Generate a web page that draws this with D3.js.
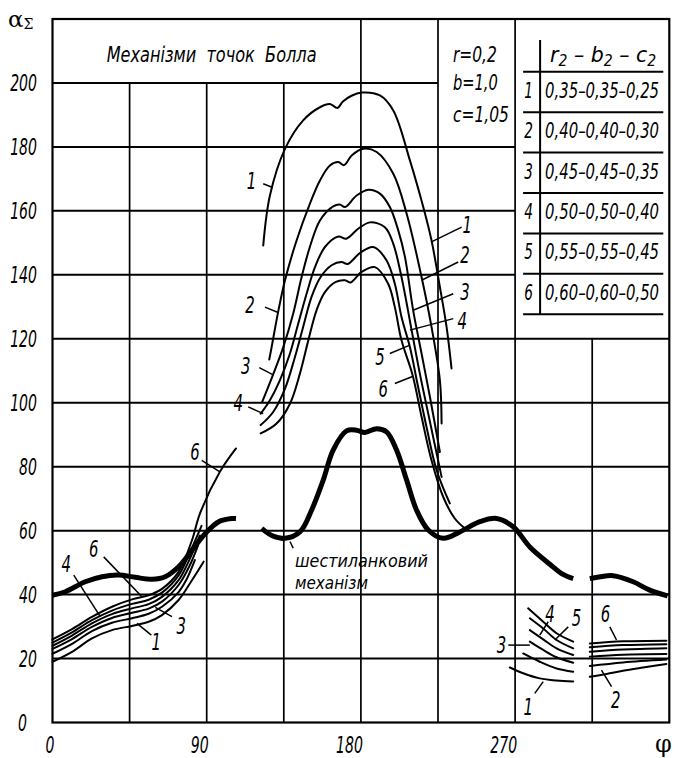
<!DOCTYPE html>
<html>
<head>
<meta charset="utf-8">
<script src="https://cdn.jsdelivr.net/npm/d3@7"></script>
<style>
  html, body { margin: 0; padding: 0; background: #fff; }
  svg { display: block; }
</style>
</head>
<body>
<svg id="chart" width="678" height="758"></svg>
<script>
// ---- axis ticks ----
const yTicks = [0, 20, 40, 60, 80, 100, 120, 140, 160, 180, 200];
const xTicks = [0, 90, 180, 270];

// ---- Ball-point mechanisms, variants 1..6: branch over 120..240 deg ----
const upper1 = [[123.0,149.2],[126.9,164.8],[135.7,179.4],[146.3,188.3],[156.1,192.4],[161.9,193.4],[166.3,192.2],[169.5,194.2],[174.5,196.0],[180.4,197.0],[191.1,196.1],[198.9,191.4],[208.6,175.8],[216.4,161.2],[221.2,150.8],[226.1,136.2],[230.0,123.7],[232.9,110.7]];
const upper2 = [[126.5,113.5],[127.9,117.4],[131.7,128.4],[135.7,138.3],[142.5,150.8],[150.2,162.2],[156.1,169.5],[161.9,174.2],[166.8,175.3],[170.2,174.3],[174.6,177.3],[181.3,179.4],[189.2,178.4],[198.9,171.6],[206.7,159.1],[215.4,139.3],[221.2,123.7],[226.1,107.0],[227.1,93.5]];
const upper3 = [[122.4,100.3],[128.8,108.9],[134.7,117.4],[140.5,127.9],[145.4,139.3],[150.2,148.7],[156.1,157.0],[163.8,161.4],[167.7,162.0],[170.7,161.2],[177.5,164.8],[184.3,166.6],[191.1,165.4],[196.9,161.2],[201.8,153.9],[205.7,145.6],[210.5,128.9],[215.4,115.4],[220.3,101.8],[226.1,84.6]];
const upper4 = [[121.5,96.6],[126.9,100.8],[132.7,107.0],[138.6,115.4],[143.4,124.7],[148.3,134.1],[153.2,142.4],[159.0,148.7],[166.8,152.0],[171.5,151.3],[178.4,154.4],[185.2,156.4],[194.0,154.9],[198.9,149.7],[203.7,139.3],[209.6,122.7],[214.4,109.1],[219.3,96.6],[227.1,76.8]];
const upper5 = [[121.5,93.0],[128.8,97.1],[135.7,104.4],[141.5,114.3],[146.3,123.7],[151.2,133.1],[156.5,139.3],[162.9,143.0],[168.7,144.0],[172.3,143.4],[179.4,146.8],[187.2,148.7],[195.0,144.5],[199.8,137.2],[203.7,126.8],[208.6,117.4],[213.4,104.9],[218.3,92.4],[224.2,78.9],[231.9,68.5]];
const upper6 = [[121.5,90.4],[130.8,93.5],[138.6,99.7],[144.4,109.1],[149.3,119.5],[154.1,128.9],[159.0,134.6],[165.4,137.8],[170.7,138.3],[174.0,137.6],[180.4,140.9],[188.2,142.4],[195.9,137.2],[199.8,129.9],[203.7,119.5],[210.2,108.6],[215.4,95.6],[221.2,82.0],[228.0,70.6],[234.8,63.8],[240.7,60.7]];

// ---- branch over 0..107 deg ----
const left1 = [[0,19.0],[11.4,22.1],[23.0,26.3],[34.7,28.9],[46.4,30.2],[56.1,31.5],[63.9,33.6],[73.6,38.3],[81.4,44.5],[88.2,50.3]];
const left2 = [[0,21.5],[11.4,24.6],[23.0,28.6],[34.7,31.2],[46.4,32.6],[56.1,34.0],[63.9,36.2],[73.6,40.8],[78.0,44.5],[83.1,50.8]];
const left3 = [[0,23.0],[11.4,26.1],[23.0,29.9],[34.7,32.7],[46.4,34.3],[56.1,35.6],[63.9,37.8],[73.6,43.0],[80.0,49.0],[85.0,55.5]];
const left4 = [[0,24.0],[11.4,27.2],[23.0,31.0],[34.7,33.9],[46.4,35.7],[56.1,37.0],[63.9,39.3],[73.6,44.5],[80.0,51.0],[86.0,58.5]];
const left5 = [[0,25.0],[11.4,28.2],[23.0,32.0],[34.7,35.0],[46.4,37.1],[56.1,38.4],[63.9,40.6],[73.6,46.0],[80.0,53.0],[87.0,61.5]];
const left6 = [[0,26.0],[11.4,29.2],[23.0,33.0],[34.7,36.2],[46.4,38.5],[56.1,39.8],[63.9,41.8],[73.6,47.1],[81.4,57.0],[86.1,65.4],[97.7,78.4],[107.1,85.7]];

// ---- branch over 267..304 deg ----
const midRight1 = [[266.9,17.2],[274.7,15.4],[284.4,13.8],[294.2,13.1],[303.9,12.8]];
const midRight2 = [[274.7,21.6],[284.4,19.0],[294.2,16.9],[303.9,15.9]];
const midRight3 = [[278.6,25.3],[286.4,22.7],[294.2,20.4],[303.9,18.7]];
const midRight4 = [[278.6,28.9],[286.4,26.0],[294.2,23.2],[303.9,21.1]];
const midRight5 = [[278.6,32.6],[286.4,29.4],[294.2,25.8],[303.9,23.2]];
const midRight6 = [[277.6,35.7],[286.4,31.5],[294.2,27.9],[303.9,25.3]];

// ---- branch over 314..358 deg ----
const farRight1 = [[313.6,14.3],[323.4,15.2],[333.0,16.2],[344.7,17.2],[358.3,18.3]];
const farRight2 = [[313.6,17.7],[333.0,18.8],[358.3,19.7]];
const farRight3 = [[313.6,20.6],[333.0,21.2],[358.3,21.4]];
const farRight4 = [[313.6,22.1],[333.0,22.8],[358.3,23.2]];
const farRight5 = [[313.6,23.5],[333.0,24.2],[358.3,24.5]];
const farRight6 = [[313.6,24.7],[333.0,25.4],[358.3,25.6]];

// ---- six-link mechanism (heavy line) ----
const sixLinkA = [[0,39.8],[7.5,40.9],[19.1,44.0],[28.9,45.6],[38.6,46.1],[48.3,45.4],[58.1,44.8],[65.8,45.6],[73.6,48.7],[81.4,53.9],[89.2,59.1],[97.0,62.8],[104.7,63.8],[107.1,63.8]];
const sixLinkB = [[122.1,60.7],[128.0,58.5],[135.7,57.6],[144.4,59.6],[151.2,66.4],[158.0,75.8],[163.8,85.2],[171.6,91.2],[177.5,91.4],[182.3,90.7],[189.2,91.9],[195.0,90.9],[200.8,85.2],[206.7,75.8],[212.5,66.4],[219.3,60.2],[228.0,57.6],[237.8,59.6],[249.4,62.8],[259.2,63.8],[268.9,61.2],[278.6,54.9],[290.3,49.5],[298.0,46.3],[303.9,45.0]];
const sixLinkC = [[313.6,45.0],[320.0,45.6],[327.2,45.9],[338.9,44.0],[348.6,41.4],[359.0,39.6]];

// ---- parameter table ----
const tableHeader = ["r", "2", " – b", "2", " – c", "2"];
const tableIds = ["1", "2", "3", "4", "5", "6"];
const tableRows = ["0,35–0,35–0,25", "0,40–0,40–0,30", "0,45–0,45–0,35", "0,50–0,50–0,40", "0,55–0,55–0,45", "0,60–0,60–0,50"];
const constants = ["r=0,2", "b=1,0", "c=1,05"];

// ---- curve number callouts: [text, textPhi, textVal, leaderFrom, leaderTo] ----
const callouts = [
  ["1", 116.2, 169.3, [123.0,168.5], [128.5,167.3]],
  ["2", 115.2, 130.5, [124.0,129.9], [131.7,128.2]],
  ["3", 112.8, 111.5, [120.7,111.0], [128.8,108.7]],
  ["4", 108.4, 100.0, [114.2,98.7], [123.0,96.6]],
  ["1", 242.1, 155.5, [238.8,154.9], [221.2,150.3]],
  ["2", 240.7, 146.1, [236.8,144.0], [215.4,138.3]],
  ["3", 240.7, 134.6, [233.9,134.1], [210.5,128.9]],
  ["4", 239.2, 125.5, [233.9,126.3], [208.6,122.7]],
  ["5", 191.1, 114.3, [196.9,115.4], [208.6,118.0]],
  ["6", 193.0, 104.4, [199.8,106.0], [210.5,108.3]],
  ["6", 83.1, 84.6, [87.1,82.0], [97.7,78.4]],
  ["6", 24.0, 54.4, [29.9,51.8], [52.2,39.3]],
  ["4", 8.0, 49.7, [12.4,46.1], [27.9,33.1]],
  ["3", 75.1, 30.2, [69.7,33.1], [60.0,36.0]],
  ["1", 60.5, 25.3, [57.7,27.3], [49.3,31.0]],
  ["3", 262.1, 24.2, [266.0,24.2], [278.6,24.2]],
  ["4", 290.3, 33.8, [289.3,31.5], [284.4,27.3]],
  ["5", 305.9, 32.8, [301.0,29.9], [293.2,25.8]],
  ["1", 277.6, 4.9, [281.5,9.1], [286.4,12.8]],
  ["6", 322.8, 33.8, [325.3,29.9], [329.2,25.8]],
  ["2", 328.7, 7.0, [326.3,11.2], [320.4,16.4]]
];

const FONT = "'Liberation Sans Narrow', 'DejaVu Sans Condensed', 'Arial Narrow', sans-serif";
const SERIF = "'DejaVu Serif', 'Liberation Serif', serif";
const ink = "#000";

const svg = d3.select("#chart");
const x = d3.scaleLinear().domain([0, 360]).range([52.5, 669.3]);
const y = d3.scaleLinear().domain([0, 220]).range([722.5, 19]);

// Drafting-style italic text, condensed horizontally. With a width the
// run is measured and squeezed to that width, otherwise scaled by sx.
function draft(g, px, py, str, o = {}) {
  const size = o.size || 22, anchor = o.anchor || "start";
  const t = g.append("text")
    .attr("font-family", FONT).attr("font-style", "italic")
    .attr("font-size", size).attr("fill", ink)
    .attr("text-anchor", anchor)
    .style("white-space", "pre");
  if (o.baseline) t.attr("dominant-baseline", o.baseline);
  if (o.build) o.build(t); else t.text(str);
  let sx = o.sx || 0.7;
  if (o.width) {
    const w = t.node().getComputedTextLength();
    if (w > 0) sx = o.width / w;
  }
  t.attr("transform", `translate(${px},${py}) scale(${sx},1)`);
  return t;
}

// ---- grid ----
const grid = svg.append("g").attr("stroke", ink).attr("fill", "none");
const hSpan = v => v === 200 ? 225 : (v >= 140 ? 270 : 360);
[20, 40, 60, 80, 100, 120, 140, 160, 180, 200].forEach(v => {
  grid.append("line")
    .attr("x1", x(0)).attr("x2", x(hSpan(v)))
    .attr("y1", y(v)).attr("y2", y(v))
    .attr("stroke-width", 2);
});
const vTop = p => p <= 135 ? 200 : (p === 315 ? 120 : 220);
[45, 90, 135, 180, 225, 270, 315].forEach(p => {
  grid.append("line")
    .attr("x1", x(p)).attr("x2", x(p))
    .attr("y1", y(0)).attr("y2", y(vTop(p)))
    .attr("stroke-width", 1.7);
});
grid.append("rect")
  .attr("x", x(0)).attr("y", y(220))
  .attr("width", x(360) - x(0)).attr("height", y(0) - y(220))
  .attr("stroke-width", 2.2);

// ---- curves ----
const line = d3.line()
  .x(d => x(d[0])).y(d => y(d[1]))
  .curve(d3.curveCatmullRom.alpha(0.5));

const curves = svg.append("g").attr("fill", "none").attr("stroke", ink)
  .attr("stroke-linecap", "round").attr("stroke-linejoin", "round");

[upper1, upper2, upper3, upper4, upper5, upper6,
 left1, left2, left3, left4, left5, left6,
 midRight1, midRight2, midRight3, midRight4, midRight5, midRight6,
 farRight1, farRight2, farRight3, farRight4, farRight5, farRight6]
  .forEach(s => curves.append("path").attr("d", line(s)).attr("stroke-width", 2));

[sixLinkA, sixLinkB, sixLinkC]
  .forEach(s => curves.append("path").attr("d", line(s)).attr("stroke-width", 5).attr("stroke-linecap", "butt"));

// ---- callouts ----
const notes = svg.append("g");
callouts.forEach(([t, p, v, a, b]) => {
  notes.append("line")
    .attr("x1", x(a[0])).attr("y1", y(a[1]))
    .attr("x2", x(b[0])).attr("y2", y(b[1]))
    .attr("stroke", ink).attr("stroke-width", 1.5);
  draft(notes, x(p), y(v), t, { size: 23, anchor: "middle", baseline: "central", sx: 0.72 });
});

notes.append("line")
  .attr("x1", x(138.6)).attr("y1", y(56.6))
  .attr("x2", x(140.5)).attr("y2", y(54.5))
  .attr("stroke", ink).attr("stroke-width", 1.5);
draft(notes, x(141.5), y(48.7), "шестиланковий", { size: 18, width: 133 });
draft(notes, x(141.5), y(41.9), "механізм", { size: 18, width: 73 });

// ---- title and constants ----
draft(svg, x(31.6), y(206.5), "Механізми\u00A0\u00A0точок\u00A0\u00A0Болла", { size: 22, width: 210 });
[44, 45, 56].forEach((w, i) => {
  draft(svg, x(233.7), y([206.5, 197.9, 187.8][i]), constants[i], { size: 21, width: w });
});

// ---- table ----
const tbl = svg.append("g");
const tLeft = x(270) + 8, tRight = x(360) - 6, tDiv = x(270) + 25;
const rowLines = d3.range(7).map(i => 71.7 + i * 40.43);
rowLines.forEach(ry => {
  tbl.append("line").attr("x1", tLeft).attr("x2", tRight)
    .attr("y1", ry).attr("y2", ry).attr("stroke", ink).attr("stroke-width", 2);
});
tbl.append("line").attr("x1", tDiv).attr("x2", tDiv)
  .attr("y1", 40).attr("y2", rowLines[6]).attr("stroke", ink).attr("stroke-width", 2);

draft(tbl, tDiv + 10, 61.5, "", {
  size: 22, width: 106,
  build: t => tableHeader.forEach((s, i) => {
    t.append("tspan")
      .attr("font-size", i % 2 ? 15 : 22)
      .attr("dy", i % 2 ? 4 : (i === 0 ? 0 : -4))
      .text(s);
  })
});

tableRows.forEach((t, i) => {
  draft(tbl, x(270) + 13.5, rowLines[i] + 26, tableIds[i], { size: 21, anchor: "middle", sx: 0.72 });
  draft(tbl, tDiv + 5, rowLines[i] + 26, t, { size: 21, width: 114 });
});

// ---- tick labels ----
yTicks.forEach(v => {
  draft(svg, v === 0 ? 27 : 37, y(v) + 8, String(v), { size: 23, anchor: "end", sx: 0.68 });
});
xTicks.forEach(p => {
  draft(svg, x(p) + 2, 753, String(p), { size: 23, anchor: "end", sx: 0.68 });
});

// ---- axis symbols ----
svg.append("text").attr("x", 655).attr("y", 752)
  .attr("font-family", SERIF).attr("font-size", 24).attr("fill", ink)
  .text("φ");
const alpha = svg.append("text").attr("x", 8).attr("y", 27)
  .attr("font-family", SERIF).attr("font-size", 23).attr("fill", ink);
alpha.append("tspan").text("α");
alpha.append("tspan").attr("font-size", 14).attr("dy", 2).text("Σ");
</script>
</body>
</html>
